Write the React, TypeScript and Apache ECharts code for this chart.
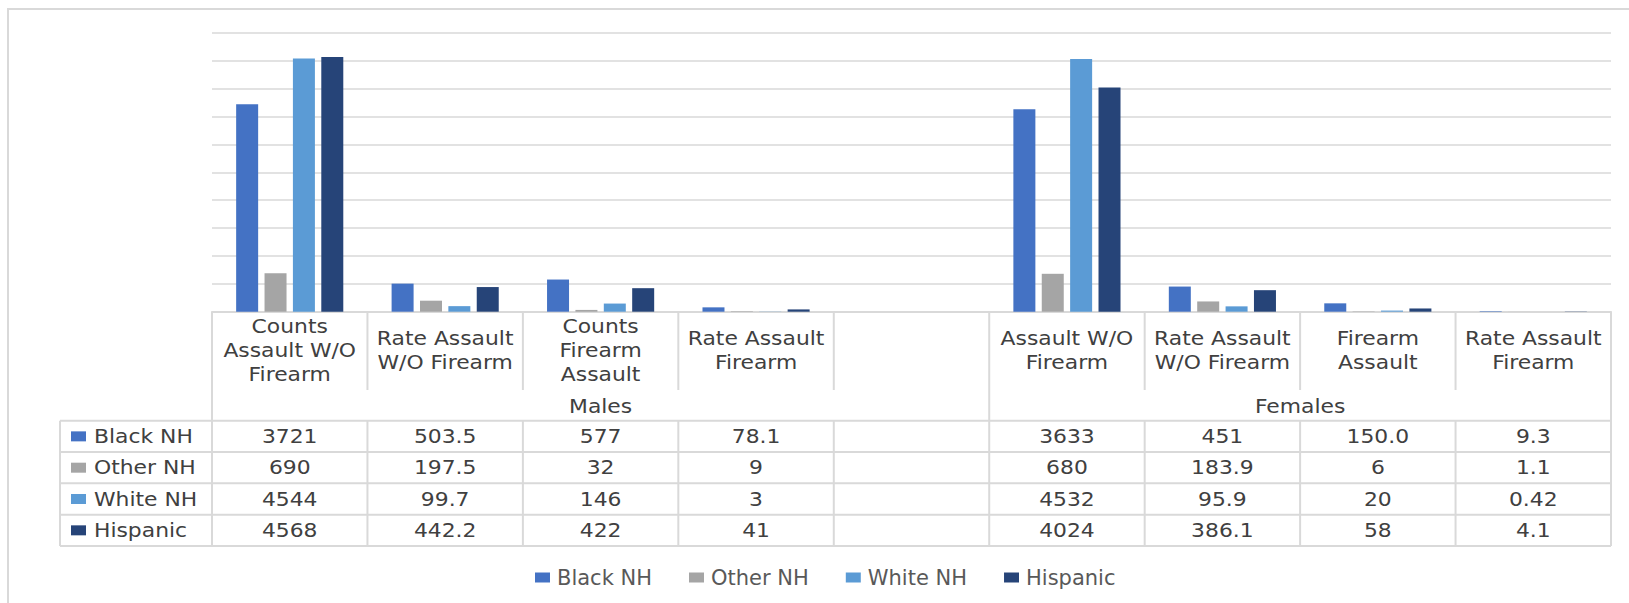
import React, { useEffect, useRef } from "react";
import * as echarts from "echarts";

// ---- data ----
const categories = [
  "Counts\nAssault W/O\nFirearm",
  "Rate Assault\nW/O Firearm",
  "Counts\nFirearm\nAssault",
  "Rate Assault\nFirearm",
  "",
  "Assault W/O\nFirearm",
  "Rate Assault\nW/O Firearm",
  "Firearm\nAssault",
  "Rate Assault\nFirearm",
];
const groupNames = ["Males", "Females"];
const groupSpans = [5, 4];
const seriesNames = ["Black NH", "Other NH", "White NH", "Hispanic"];
const blackNH = ["3721", "503.5", "577", "78.1", "", "3633", "451", "150.0", "9.3"];
const otherNH = ["690", "197.5", "32", "9", "", "680", "183.9", "6", "1.1"];
const whiteNH = ["4544", "99.7", "146", "3", "", "4532", "95.9", "20", "0.42"];
const hispanic = ["4568", "442.2", "422", "41", "", "4024", "386.1", "58", "4.1"];
const yMin = 0;
const yMax = 5000;
const yInterval = 500;

const seriesValues = [blackNH, otherNH, whiteNH, hispanic];
const colors = ["#4472C4", "#A5A5A5", "#5B9BD5", "#264478"];

// ---- layout ----
const GL = 212;
const GR = 1611;
const GT = 33;
const GB = 311.7;
const HEADER_BOTTOM = 390;
const GROUP_BOTTOM = 420.7;
const TABLE_BOTTOM = 546;
const KEY_COL_LEFT = 60;
const SX = 1.15;
const LINE = { stroke: "#d9d9d9", lineWidth: 2 };
const FONT = '19px "DejaVu Sans"';
const TEXT_COLOR = "#404040";

function buildGraphic() {
  const n = categories.length;
  const catW = (GR - GL) / n;
  const rowH = (TABLE_BOTTOM - GROUP_BOTTOM) / seriesNames.length;
  const els: any[] = [];

  // outer border
  els.push({
    type: "rect",
    silent: true,
    z: 0,
    shape: { x: 8, y: 9, width: 1800, height: 800 },
    style: { fill: "none", stroke: "#d9d9d9", lineWidth: 2 },
  });

  const line = (x1: number, y1: number, x2: number, y2: number) =>
    els.push({ type: "line", silent: true, z: 5, shape: { x1, y1, x2, y2 }, style: { ...LINE } });
  const text = (t: string, x: number, y: number, align: string, fill = TEXT_COLOR) =>
    els.push({
      type: "text",
      silent: true,
      z: 6,
      x,
      y,
      scaleX: SX,
      style: {
        text: t,
        font: FONT,
        fill,
        textAlign: align,
        textVerticalAlign: "middle",
        lineHeight: 24,
      },
    });

  // group boundaries
  const groupEdges: number[] = [0];
  groupSpans.forEach((s) => groupEdges.push(groupEdges[groupEdges.length - 1] + s));

  // vertical lines
  for (let i = 0; i <= n; i++) {
    const x = GL + i * catW;
    if (groupEdges.includes(i)) {
      line(x, GB, x, TABLE_BOTTOM);
    } else {
      line(x, GB, x, HEADER_BOTTOM);
      line(x, GROUP_BOTTOM, x, TABLE_BOTTOM);
    }
  }
  line(KEY_COL_LEFT, GROUP_BOTTOM, KEY_COL_LEFT, TABLE_BOTTOM);

  // horizontal lines
  for (let r = 0; r <= seriesNames.length; r++) {
    const y = GROUP_BOTTOM + r * rowH;
    line(KEY_COL_LEFT, y, GR, y);
  }

  // header texts
  categories.forEach((c, i) => {
    if (c) text(c, GL + (i + 0.5) * catW, (GB + HEADER_BOTTOM) / 2, "center");
  });
  // group texts
  groupNames.forEach((g, gi) => {
    const cx = GL + ((groupEdges[gi] + groupEdges[gi + 1]) / 2) * catW;
    text(g, cx, (HEADER_BOTTOM + GROUP_BOTTOM) / 2 + 1, "center");
  });
  // rows
  seriesNames.forEach((name, r) => {
    const cy = GROUP_BOTTOM + (r + 0.5) * rowH;
    els.push({
      type: "rect",
      silent: true,
      z: 6,
      shape: { x: 71, y: cy - 5, width: 15, height: 10 },
      style: { fill: colors[r] },
    });
    text(name, 94, cy, "left");
    seriesValues[r].forEach((v, i) => {
      if (v !== "") text(v, GL + (i + 0.5) * catW, cy, "center");
    });
  });
  return els;
}

export default function App() {
  const ref = useRef<HTMLDivElement>(null);
  useEffect(() => {
    if (!ref.current) return;
    const chart = echarts.init(ref.current, undefined, { renderer: "svg" });
    chart.setOption({
      animation: false,
      backgroundColor: "#ffffff",
      grid: { left: GL, right: 1629 - GR, top: GT, bottom: 603 - GB, containLabel: false },
      xAxis: {
        type: "category",
        data: categories,
        axisLabel: { show: false },
        axisTick: { show: false },
        axisLine: { show: true, lineStyle: { color: "#d9d9d9", width: 2 } },
      },
      yAxis: {
        type: "value",
        min: yMin,
        max: yMax,
        interval: yInterval,
        axisLabel: { show: false },
        axisLine: { show: false },
        axisTick: { show: false },
        splitLine: { lineStyle: { color: "#d9d9d9", width: 1.5 } },
      },
      legend: {
        data: seriesNames,
        left: 530,
        top: 562,
        icon: "rect",
        itemWidth: 15,
        itemHeight: 10,
        itemGap: 37,
        textStyle: { fontFamily: "DejaVu Sans", fontSize: 21, color: "#595959", padding: [0, 0, 0, 2] },
      },
      series: seriesNames.map((name, i) => ({
        name,
        type: "bar",
        data: seriesValues[i].map((v) => (v === "" ? null : Number(v))),
        barWidth: 22,
        barGap: "29%",
        itemStyle: { color: colors[i] },
      })),
      graphic: { elements: buildGraphic() },
    });
    return () => chart.dispose();
  }, []);
  return (
    <div
      ref={ref}
      style={{ position: "absolute", left: 0, top: 0, width: 1629, height: 603, background: "#fff" }}
    />
  );
}
